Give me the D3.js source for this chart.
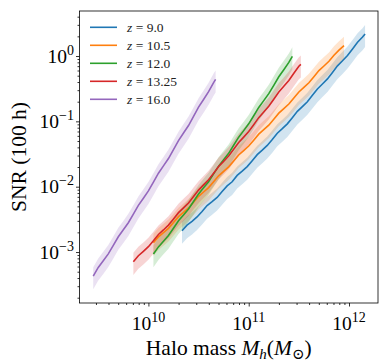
<!DOCTYPE html>
<html>
<head>
<meta charset="utf-8">
<script src="https://cdn.jsdelivr.net/npm/d3@7"></script>
<style>
  body { margin: 0; background: #fff; }
  svg { font-family: "Liberation Serif", "DejaVu Serif", serif; }
</style>
</head>
<body>
<script>
// redshift labels for each curve
var zLabels = ["9.0", "10.5", "12.0", "13.25", "16.0"];
var colors = ["#1f77b4", "#ff7f0e", "#2ca02c", "#d62728", "#9467bd"];

// log10 of halo mass (Msun)
var logMass_z9 = [10.335, 10.385, 10.435, 10.485, 10.535, 10.585, 10.635, 10.685, 10.735, 10.785, 10.835, 10.885, 10.935, 10.985, 11.035, 11.085, 11.135, 11.185, 11.235, 11.285, 11.335, 11.385, 11.435, 11.485, 11.535, 11.585, 11.635, 11.685, 11.735, 11.785, 11.835, 11.885, 11.935, 11.985, 12.035, 12.085, 12.135, 12.16];
var logSNR_z9 = [-2.674, -2.589, -2.532, -2.463, -2.379, -2.289, -2.228, -2.164, -2.075, -1.988, -1.925, -1.827, -1.762, -1.693, -1.603, -1.510, -1.441, -1.368, -1.278, -1.182, -1.112, -1.038, -0.944, -0.847, -0.774, -0.700, -0.602, -0.505, -0.428, -0.350, -0.252, -0.150, -0.073, 0.008, 0.108, 0.211, 0.290, 0.337];

var logMass_z10p5 = [10.05, 10.10, 10.15, 10.20, 10.25, 10.30, 10.35, 10.40, 10.45, 10.50, 10.55, 10.60, 10.65, 10.70, 10.75, 10.80, 10.85, 10.90, 10.95, 11.00, 11.05, 11.10, 11.15, 11.20, 11.25, 11.30, 11.35, 11.40, 11.45, 11.50, 11.55, 11.60, 11.65, 11.70, 11.75, 11.80, 11.85, 11.90, 11.95];
var logSNR_z10p5 = [-2.858, -2.769, -2.704, -2.637, -2.549, -2.458, -2.393, -2.325, -2.237, -2.147, -2.081, -2.014, -1.923, -1.834, -1.765, -1.696, -1.607, -1.515, -1.448, -1.378, -1.288, -1.196, -1.128, -1.058, -0.967, -0.874, -0.805, -0.734, -0.643, -0.550, -0.481, -0.409, -0.317, -0.223, -0.153, -0.081, 0.011, 0.090, 0.160];

var logMass_z12 = [10.05, 10.10, 10.15, 10.20, 10.25, 10.30, 10.35, 10.40, 10.45, 10.50, 10.55, 10.60, 10.65, 10.70, 10.75, 10.80, 10.85, 10.90, 10.95, 11.00, 11.05, 11.10, 11.15, 11.20, 11.25, 11.30, 11.35, 11.40, 11.435];
var logSNR_z12 = [-3.031, -2.921, -2.835, -2.748, -2.636, -2.522, -2.434, -2.341, -2.227, -2.110, -2.017, -1.923, -1.804, -1.686, -1.587, -1.489, -1.366, -1.242, -1.142, -1.038, -0.914, -0.787, -0.683, -0.576, -0.448, -0.317, -0.209, -0.098, -0.004];

var logMass_z13p25 = [9.85, 9.90, 9.95, 10.00, 10.05, 10.10, 10.15, 10.20, 10.25, 10.30, 10.35, 10.40, 10.45, 10.50, 10.55, 10.60, 10.65, 10.70, 10.75, 10.80, 10.85, 10.90, 10.95, 11.00, 11.05, 11.10, 11.15, 11.20, 11.25, 11.30, 11.35, 11.40, 11.45, 11.50, 11.52];
var logSNR_z13p25 = [-3.149, -3.057, -2.989, -2.918, -2.827, -2.732, -2.662, -2.588, -2.494, -2.397, -2.323, -2.249, -2.150, -2.052, -1.973, -1.894, -1.794, -1.691, -1.613, -1.531, -1.428, -1.323, -1.241, -1.156, -1.051, -0.943, -0.858, -0.770, -0.662, -0.551, -0.464, -0.374, -0.263, -0.156, -0.127];

var logMass_z16 = [9.45, 9.50, 9.55, 9.60, 9.65, 9.70, 9.75, 9.80, 9.85, 9.90, 9.95, 10.00, 10.05, 10.10, 10.15, 10.20, 10.25, 10.30, 10.35, 10.40, 10.45, 10.50, 10.55, 10.60, 10.65, 10.67];
var logSNR_z16 = [-3.368, -3.236, -3.134, -3.028, -2.898, -2.766, -2.660, -2.552, -2.419, -2.286, -2.176, -2.065, -1.930, -1.793, -1.682, -1.569, -1.432, -1.294, -1.179, -1.064, -0.924, -0.782, -0.666, -0.546, -0.406, -0.357];

// fractional 1-sigma error used for the shaded bands
var snrFracErr = [0.37, 0.37, 0.37, 0.37, 0.37];

var xTickExps = [10, 11, 12];
var yTickExps = [0, -1, -2, -3];

function main() {
    var [width, height, svg, x, y, margin] = prepChart();

    var series = [
        [logMass_z9, logSNR_z9],
        [logMass_z10p5, logSNR_z10p5],
        [logMass_z12, logSNR_z12],
        [logMass_z13p25, logSNR_z13p25],
        [logMass_z16, logSNR_z16]
    ];

    drawAxes(svg, x, y, margin, width, height);
    drawSeries(svg, x, y, series);
    drawLegend(svg);
}

function prepChart() {
    var width = 390, height = 363;
    var margin = {left: 79.5, right: 378, top: 11, bottom: 303};

    var svg = d3.select("body").append("svg")
        .attr("width", width)
        .attr("height", height);

    // domains in data units (log axes)
    var x = d3.scaleLog()
        .domain([Math.pow(10, 9.313), Math.pow(10, 12.289)])
        .range([margin.left, margin.right]);
    var y = d3.scaleLog()
        .domain([Math.pow(10, -3.78), Math.pow(10, 0.689)])
        .range([margin.bottom, margin.top]);

    return [width, height, svg, x, y, margin];
}

function drawAxes(svg, x, y, m, width, height) {
    // x axis with log minor ticks
    var xAxis = d3.axisBottom(x)
        .tickValues(x.ticks())
        .tickSizeInner(2)
        .tickSizeOuter(0)
        .tickFormat("");
    var gx = svg.append("g")
        .attr("transform", "translate(0," + m.bottom + ")")
        .call(xAxis);
    gx.selectAll(".tick line").filter(function (d) {
        return xTickExps.indexOf(Math.round(Math.log10(d) * 1000) / 1000) >= 0;
    }).attr("y2", 3.5);
    gx.select(".domain").remove();
    gx.selectAll(".tick line").attr("stroke", "#000").attr("stroke-width", 0.8);

    var yAxis = d3.axisLeft(y)
        .tickValues(y.ticks())
        .tickSizeInner(2)
        .tickSizeOuter(0)
        .tickFormat("");
    var gy = svg.append("g")
        .attr("transform", "translate(" + m.left + ",0)")
        .call(yAxis);
    gy.selectAll(".tick line").filter(function (d) {
        return yTickExps.indexOf(Math.round(Math.log10(d) * 1000) / 1000) >= 0;
    }).attr("x2", -3.5);
    gy.select(".domain").remove();
    gy.selectAll(".tick line").attr("stroke", "#000").attr("stroke-width", 0.8);

    // major tick labels 10^n
    xTickExps.forEach(function (e) {
        var t = svg.append("text")
            .attr("x", x(Math.pow(10, e)))
            .attr("y", 330)
            .attr("text-anchor", "middle")
            .attr("font-size", 19.5);
        t.append("tspan").text("10");
        t.append("tspan").attr("dy", -8).attr("font-size", 14).text(e);
    });
    yTickExps.forEach(function (e) {
        var t = svg.append("text")
            .attr("x", 74)
            .attr("y", y(Math.pow(10, e)) + 6.5)
            .attr("text-anchor", "end")
            .attr("font-size", 19.5);
        t.append("tspan").text("10");
        t.append("tspan").attr("dy", -8).attr("font-size", 14).text(e === 0 ? "0" : "\u2212" + (-e));
    });

    // axis labels
    var xl = svg.append("text")
        .attr("x", (m.left + m.right) / 2)
        .attr("y", 355)
        .attr("text-anchor", "middle")
        .attr("font-size", 21.5);
    xl.append("tspan").text("Halo mass ");
    xl.append("tspan").attr("font-style", "italic").text("M");
    xl.append("tspan").attr("font-style", "italic").attr("font-size", 15).attr("dy", 4).text("h");
    xl.append("tspan").attr("dy", -4).text("(");
    xl.append("tspan").attr("font-style", "italic").text("M");
    xl.append("tspan").attr("font-size", 15).attr("dy", 4).text("\u2299");
    xl.append("tspan").attr("dy", -4).text(")");

    svg.append("text")
        .attr("transform", "translate(26," + (m.top + m.bottom) / 2 + ") rotate(-90)")
        .attr("text-anchor", "middle")
        .attr("font-size", 21.5)
        .text("SNR (100 h)");

    // frame
    svg.append("rect")
        .attr("x", m.left)
        .attr("y", m.top)
        .attr("width", m.right - m.left)
        .attr("height", m.bottom - m.top)
        .attr("fill", "none")
        .attr("stroke", "#000")
        .attr("stroke-width", 0.8);
}

function drawSeries(svg, x, y, series) {
    var plot = svg.append("g");

    series.forEach(function (s, i) {
        var pts = s[0].map(function (lm, j) {
            return {m: Math.pow(10, lm), snr: Math.pow(10, s[1][j])};
        });
        var err = snrFracErr[i];

        // shaded uncertainty band
        var area = d3.area()
            .x(function (d) { return x(d.m); })
            .y0(function (d) { return y(d.snr * (1 - err)); })
            .y1(function (d) { return y(d.snr * (1 + err)); });
        plot.append("path")
            .datum(pts)
            .attr("d", area)
            .attr("fill", colors[i])
            .attr("fill-opacity", 0.2);
    });

    series.forEach(function (s, i) {
        var pts = s[0].map(function (lm, j) {
            return {m: Math.pow(10, lm), snr: Math.pow(10, s[1][j])};
        });
        var line = d3.line()
            .x(function (d) { return x(d.m); })
            .y(function (d) { return y(d.snr); });
        plot.append("path")
            .datum(pts)
            .attr("d", line)
            .attr("fill", "none")
            .attr("stroke", colors[i])
            .attr("stroke-width", 1.6);
    });
}

function drawLegend(svg) {
    var leg = svg.append("g");
    zLabels.forEach(function (z, i) {
        var yy = 27.3 + i * 18;
        leg.append("line")
            .attr("x1", 90).attr("x2", 117)
            .attr("y1", yy).attr("y2", yy)
            .attr("stroke", colors[i])
            .attr("stroke-width", 1.6);
        var t = leg.append("text")
            .attr("x", 127)
            .attr("y", yy + 4.5)
            .attr("font-size", 13.5)
            .attr("fill", "#222");
        t.append("tspan").attr("font-style", "italic").text("z");
        t.append("tspan").text(" = " + z);
    });
}

window.onload = main;
</script>
</body>
</html>
